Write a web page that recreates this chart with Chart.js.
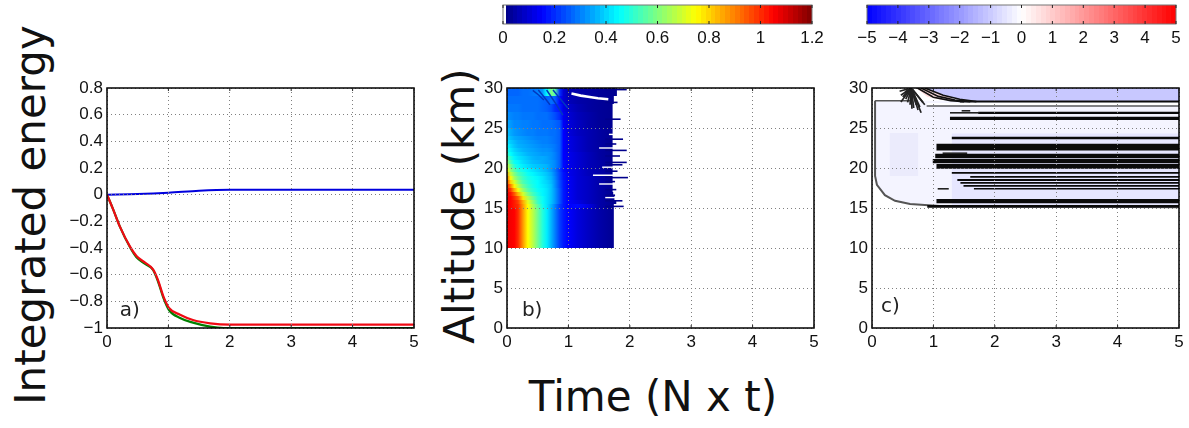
<!DOCTYPE html>
<html>
<head>
<meta charset="utf-8">
<title>Integrated energy</title>
<script src="https://cdn.jsdelivr.net/npm/chart.js@4/dist/chart.umd.min.js"></script>
<style>
    body { margin: 0; width: 1189px; height: 428px; background: #fff; overflow: hidden; position: relative; }
    canvas { position: absolute; }
    .big { position: absolute; font-family: "DejaVu Sans"; font-size: 42px; color: #111; white-space: nowrap; line-height: 1; transform: translate(-50%, -50%); }
    .vert { transform: translate(-50%, -50%) rotate(-90deg); }
</style>
</head>
<body>
<div class="big vert" style="left:31px; top:215px;">Integrated energy</div>
<div class="big vert" style="left:460px; top:206px;">Altitude (km)</div>
<div class="big" style="left:653px; top:397px;">Time (N x t)</div>

<canvas id="panel-a" width="370" height="370" style="left:60px; top:0;"></canvas>
<canvas id="panel-b" width="360" height="370" style="left:470px; top:0;"></canvas>
<canvas id="panel-c" width="354" height="370" style="left:835px; top:0;"></canvas>
<canvas id="bar-b" width="350" height="60" style="left:485px; top:0;"></canvas>
<canvas id="bar-c" width="350" height="60" style="left:839px; top:0;"></canvas>

<script>
// --- tick labels ---
const timeTicks = [0, 1, 2, 3, 4, 5];
const energyTicks = [-1, -0.8, -0.6, -0.4, -0.2, 0, 0.2, 0.4, 0.6, 0.8];
const altTicks = [0, 5, 10, 15, 20, 25, 30];
const jetTicks = [0, 0.2, 0.4, 0.6, 0.8, 1, 1.2];
const divTicks = [-5, -4, -3, -2, -1, 0, 1, 2, 3, 4, 5];

// --- panel a) ---
const blueT = [0, 0.5, 1, 1.5, 2, 5];
const blueE = [0, 0.005, 0.015, 0.03, 0.037, 0.037];
const redT = [0, 0.1, 0.21, 0.375, 0.48, 0.62, 0.75, 0.83, 0.92, 1.01, 1.19, 1.4, 1.68, 2, 5];
const redE = [0, -0.11, -0.24, -0.39, -0.46, -0.51, -0.56, -0.64, -0.765, -0.85, -0.9, -0.94, -0.965, -0.975, -0.975];
const greenT = [0, 0.1, 0.21, 0.375, 0.48, 0.62, 0.75, 0.83, 0.92, 1.01, 1.19, 1.4, 1.68, 1.9, 5];
const greenE = [0, -0.11, -0.24, -0.395, -0.47, -0.52, -0.565, -0.65, -0.775, -0.865, -0.925, -0.96, -0.99, -1, -1];

// --- panel b) filas de la superficie: valor por tiempo ---
const heatT = [0, 0.06, 0.12, 0.18, 0.26, 0.34, 0.42, 0.5, 0.58, 0.65, 0.72, 0.78, 0.86, 0.92, 1, 1.15, 1.32, 1.5, 1.75];
const heatAlt = [12.5, 15.25, 15.75, 16.25, 16.75, 17.25, 17.75, 18.25, 18.75, 19.25, 19.75, 20.25, 20.75, 21.25, 21.75, 22.25, 22.75, 23.25, 23.75, 24.5, 25.5, 26.5, 27.5, 28.5, 29.5];
const heatThick = [5, 0.5, 0.5, 0.5, 0.5, 0.5, 0.5, 0.5, 0.5, 0.5, 0.5, 0.5, 0.5, 0.5, 0.5, 0.5, 0.5, 0.5, 0.5, 1, 1, 1, 1, 1, 1];
const heatEnd = [1.74, 1.74, 1.78, 1.75, 1.73, 1.72, 1.72, 1.72, 1.72, 1.72, 1.72, 1.72, 1.72, 1.72, 1.72, 1.72, 1.72, 1.72, 1.72, 1.72, 1.72, 1.72, 1.72, 1.74, 1.79];
const heatRows = [
    [1.07, 1.06, 1.05, 1.0, 0.87, 0.75, 0.67, 0.58, 0.49, 0.43, 0.36, 0.3, 0.22, 0.18, 0.15, 0.11, 0.08, 0.05, 0.02],
    [1.07, 1.05, 1.02, 1.0, 0.87, 0.75, 0.65, 0.56, 0.47, 0.42, 0.36, 0.3, 0.22, 0.18, 0.15, 0.16, 0.12, 0.05, 0.02],
    [1.07, 1.05, 1.02, 0.98, 0.85, 0.72, 0.62, 0.52, 0.46, 0.42, 0.38, 0.33, 0.25, 0.18, 0.15, 0.12, 0.08, 0.05, 0.02],
    [1.07, 1.05, 1.0, 0.94, 0.78, 0.66, 0.58, 0.5, 0.46, 0.42, 0.38, 0.33, 0.25, 0.18, 0.14, 0.1, 0.08, 0.05, 0.02],
    [1.07, 1.03, 0.95, 0.84, 0.7, 0.6, 0.53, 0.48, 0.44, 0.42, 0.38, 0.33, 0.25, 0.18, 0.14, 0.1, 0.08, 0.05, 0.02],
    [1.06, 0.98, 0.85, 0.74, 0.63, 0.55, 0.5, 0.46, 0.44, 0.42, 0.38, 0.33, 0.25, 0.18, 0.14, 0.1, 0.08, 0.05, 0.02],
    [1.03, 0.9, 0.76, 0.67, 0.58, 0.52, 0.48, 0.45, 0.43, 0.41, 0.38, 0.32, 0.24, 0.18, 0.14, 0.1, 0.08, 0.05, 0.02],
    [0.98, 0.8, 0.7, 0.62, 0.54, 0.5, 0.47, 0.45, 0.42, 0.4, 0.37, 0.32, 0.24, 0.18, 0.14, 0.1, 0.08, 0.05, 0.02],
    [0.92, 0.74, 0.64, 0.58, 0.52, 0.48, 0.46, 0.44, 0.42, 0.39, 0.36, 0.31, 0.23, 0.17, 0.14, 0.1, 0.08, 0.05, 0.02],
    [0.85, 0.68, 0.6, 0.54, 0.5, 0.46, 0.44, 0.42, 0.4, 0.38, 0.35, 0.3, 0.23, 0.17, 0.13, 0.1, 0.07, 0.05, 0.02],
    [0.76, 0.62, 0.55, 0.5, 0.47, 0.44, 0.42, 0.4, 0.38, 0.36, 0.33, 0.29, 0.22, 0.16, 0.13, 0.1, 0.07, 0.05, 0.02],
    [0.7, 0.58, 0.5, 0.46, 0.43, 0.41, 0.39, 0.38, 0.37, 0.36, 0.33, 0.31, 0.26, 0.16, 0.13, 0.1, 0.07, 0.05, 0.02],
    [0.63, 0.53, 0.46, 0.44, 0.41, 0.39, 0.37, 0.36, 0.35, 0.34, 0.33, 0.31, 0.26, 0.16, 0.13, 0.1, 0.07, 0.05, 0.02],
    [0.58, 0.49, 0.44, 0.42, 0.4, 0.38, 0.36, 0.35, 0.35, 0.34, 0.32, 0.3, 0.26, 0.15, 0.13, 0.1, 0.07, 0.04, 0.02],
    [0.52, 0.45, 0.42, 0.4, 0.38, 0.36, 0.35, 0.34, 0.33, 0.33, 0.32, 0.3, 0.26, 0.15, 0.13, 0.1, 0.07, 0.04, 0.02],
    [0.48, 0.43, 0.4, 0.38, 0.36, 0.35, 0.34, 0.33, 0.32, 0.32, 0.31, 0.29, 0.26, 0.15, 0.12, 0.09, 0.06, 0.04, 0.02],
    [0.45, 0.41, 0.38, 0.36, 0.35, 0.34, 0.33, 0.32, 0.31, 0.31, 0.3, 0.29, 0.26, 0.15, 0.12, 0.09, 0.06, 0.04, 0.02],
    [0.42, 0.39, 0.37, 0.35, 0.34, 0.33, 0.32, 0.31, 0.3, 0.3, 0.29, 0.28, 0.26, 0.15, 0.12, 0.09, 0.06, 0.04, 0.02],
    [0.4, 0.37, 0.35, 0.34, 0.33, 0.32, 0.31, 0.3, 0.3, 0.3, 0.29, 0.28, 0.26, 0.15, 0.12, 0.09, 0.06, 0.04, 0.02],
    [0.38, 0.35, 0.33, 0.32, 0.31, 0.3, 0.3, 0.29, 0.29, 0.29, 0.28, 0.28, 0.26, 0.15, 0.11, 0.08, 0.06, 0.04, 0.02],
    [0.35, 0.33, 0.31, 0.31, 0.3, 0.3, 0.29, 0.29, 0.28, 0.28, 0.28, 0.27, 0.25, 0.14, 0.11, 0.08, 0.05, 0.03, 0.02],
    [0.32, 0.31, 0.3, 0.3, 0.29, 0.29, 0.29, 0.28, 0.28, 0.28, 0.26, 0.24, 0.2, 0.13, 0.1, 0.07, 0.05, 0.03, 0.02],
    [0.3, 0.29, 0.29, 0.29, 0.28, 0.28, 0.28, 0.28, 0.27, 0.26, 0.24, 0.2, 0.18, 0.12, 0.09, 0.06, 0.04, 0.03, 0.02],
    [0.28, 0.28, 0.28, 0.28, 0.28, 0.28, 0.28, 0.28, 0.27, 0.26, 0.28, 0.26, 0.16, 0.1, 0.07, 0.05, 0.04, 0.03, 0.02],
    [0.27, 0.27, 0.27, 0.27, 0.28, 0.28, 0.29, 0.3, 0.33, 0.45, 0.6, 0.55, 0.2, 0.1, 0.06, 0.05, 0.04, 0.03, 0.02]
];
// picos a la derecha y muescas blancas
const spikeAlt = [29.8, 28.2, 26.1, 23.6, 23.0, 22.2, 21.5, 20.7, 20.4, 19.6, 18.8, 18.3, 17.3, 16.6, 15.9, 15.2];
const spikeEnd = [1.95, 1.8, 1.85, 1.89, 1.78, 1.95, 1.84, 1.95, 1.88, 1.8, 1.97, 1.76, 1.78, 1.76, 1.88, 1.9];
const notchAlt = [24.2, 22.5, 20.1, 19.1, 18.0, 16.3];
const notchStart = [1.66, 1.5, 1.55, 1.4, 1.5, 1.6];
const whiteArcT = [1.05, 1.2, 1.32, 1.48, 1.65];
const whiteArcZ = [29.3, 29.05, 28.9, 28.72, 28.6];
const fanB = [
    { t: [0.645, 0.78, 0.91], z: [29.75, 28.2, 26.6] },
    { t: [0.75, 0.86, 0.99], z: [29.75, 28.7, 27.5] },
    { t: [0.51, 0.6, 0.7], z: [29.75, 28.9, 27.9] },
    { t: [0.42, 0.52, 0.6], z: [29.7, 29.1, 28.5] }
];

// --- panel c) ---
const outlineT = [0.05, 0.05, 0.08, 0.21, 0.375, 0.62, 1.1, 5];
const outlineZ = [28.4, 19, 17.9, 16.6, 15.9, 15.5, 15.25, 15.1];
const bandT = [0.86, 1.16, 1.43, 1.7, 5];
const bandZ = [30, 29.1, 28.6, 28.3, 28.3];
const arcs = [
    { t: [0.86, 1.16, 1.43, 1.7], z: [30, 29.1, 28.6, 28.3] },
    { t: [0.8, 1.08, 1.35, 1.6], z: [30, 28.95, 28.5, 28.3] },
    { t: [0.74, 1.0, 1.28, 1.5], z: [30, 28.85, 28.42, 28.3] }
];
const pinkT = [0.72, 0.9, 1.1, 1.3];
const pinkZ = [30, 28.9, 28.55, 28.45];
const fanT = [0.45, 0.47, 0.47, 0.5, 0.54, 0.55, 0.58, 0.62, 0.65, 0.68, 0.72, 0.75, 0.78, 0.8, 0.83, 0.86];
const fanZ = [29.6, 29.1, 28.25, 28.9, 29.5, 28.6, 28.2, 27.9, 27.4, 27.5, 27.9, 27.25, 27.6, 26.9, 28.2, 27.9];
const fanOriginT = 0.64;
const fanOriginZ = 30;
// franjas negras horizontales: altitud, inicio, grosor en px
const stripeAlt = [28.3, 27.75, 26.9, 26.2, 23.75, 22.6, 21.5, 20.85, 20.2, 19.4, 18.9, 18.5, 18.15, 17.77, 17.4, 15.85, 15.2];
const stripeStart = [1.43, 0.89, 1.73, 1.27, 1.3, 1.05, 1.03, 0.99, 1.05, 1.3, 1.6, 1.39, 1.44, 1.49, 1.66, 1.05, 0.9];
const stripeWide = [2, 1.2, 2.3, 3.3, 2.7, 6.8, 4.7, 4.3, 4.7, 1.7, 1.7, 2, 1.7, 1.7, 1.4, 4.3, 2.7];
const shortStripeAlt = [21.85, 17.4, 27.15, 26.9];
const shortStripeA = [1.15, 1.07, 1.46, 1.27];
const shortStripeB = [1.55, 1.25, 1.6, 1.75];

const PX_KM = 8;

function jet(v) {
    const f = v / 1.2;
    const c = x => Math.round(255 * Math.max(0, Math.min(1, x)));
    const r = c(Math.min(4 * f - 1.5, -4 * f + 4.5));
    const g = c(Math.min(4 * f - 0.5, -4 * f + 3.5));
    const b = c(Math.min(4 * f + 0.5, -4 * f + 2.5));
    return `rgb(${r},${g},${b})`;
}

function blueRed(v) {
    const f = v / 5;
    const c = x => Math.round(255 * x);
    if (f < 0) return `rgb(${c(1 + f)},${c(1 + f)},255)`;
    return `rgb(255,${c(1 - f)},${c(1 - f)})`;
}

function xy(ts, vs) {
    return ts.map((t, i) => ({ x: t, y: vs[i] }));
}

function line(ts, vs, color, width, extra) {
    return Object.assign({
        data: xy(ts, vs), showLine: true, pointRadius: 0,
        borderColor: color, borderWidth: width
    }, extra || {});
}

// la ultima serie de la lista queda encima
function enOrden(series) {
    series.forEach((s, i) => { s.order = -i; });
    return series;
}

function axis(ticks, min, max, extra) {
    return Object.assign({
        type: 'linear', min: min, max: max,
        afterBuildTicks: s => { s.ticks = ticks.map(v => ({ value: v })); },
        grid: { z: 1, color: '#808080', lineWidth: 1, drawTicks: false },
        border: { display: false, dash: [1, 3] },
        ticks: {
            color: '#111', font: { family: 'Liberation Sans', size: 17 },
            autoSkip: false, maxRotation: 0, padding: 4,
            callback: v => String(v).replace('-', '\u2212')
        }
    }, extra || {});
}

// el gradiente se pide antes del layout la primera vez
function scaleReady(chart) {
    return chart.chartArea && Number.isFinite(chart.scales.x.getPixelForValue(0));
}

// marco, marcas interiores y etiqueta a) b) c)
const framePlugin = {
    id: 'frame',
    afterDraw(chart, args, opts) {
        const { ctx, chartArea: a, scales } = chart;
        ctx.save();
        ctx.strokeStyle = opts.color || '#000';
        ctx.lineWidth = opts.width || 1.5;
        ctx.strokeRect(a.left, a.top, a.right - a.left, a.bottom - a.top);
        ctx.lineWidth = 1;
        ctx.strokeStyle = '#222';
        scales.x.ticks.forEach(tk => {
            const p = scales.x.getPixelForValue(tk.value);
            ctx.beginPath();
            ctx.moveTo(p, a.bottom); ctx.lineTo(p, a.bottom - 3);
            ctx.moveTo(p, a.top); ctx.lineTo(p, a.top + 3);
            ctx.stroke();
        });
        if (opts.text) {
            ctx.fillStyle = '#222';
            ctx.font = '20px "DejaVu Sans"';
            ctx.textAlign = 'center';
            ctx.textBaseline = 'middle';
            ctx.fillText(opts.text, scales.x.getPixelForValue(opts.t), scales.y.getPixelForValue(opts.v));
        }
        ctx.restore();
    }
};

function panel(id, series, yTicks, yMin, yMax, scaleWidth, paddingRight, frame) {
    return new Chart(document.getElementById(id), {
        type: 'scatter',
        data: { datasets: enOrden(series) },
        plugins: [framePlugin],
        options: {
            responsive: false,
            animation: false,
            events: [],
            layout: { autoPadding: false, padding: { top: 88, bottom: 2, left: 0, right: paddingRight } },
            plugins: { legend: { display: false }, tooltip: { enabled: false }, frame: frame },
            scales: {
                x: axis(timeTicks, 0, 5, { afterFit: s => { s.height = 40; } }),
                y: axis(yTicks, yMin, yMax, { afterFit: s => { s.width = scaleWidth; } })
            }
        }
    });
}

function colorbar(id, ticks, min, max, fn, left, right, white) {
    const row = line([min, max], [0.5, 0.5], null, 19, {
        borderColor: c => {
            if (!scaleReady(c.chart)) return '#000';
            const x = c.chart.scales.x;
            const g = c.chart.ctx.createLinearGradient(x.left, 0, x.right, 0);
            const n = 64;
            for (let i = 0; i < n; i++) {
                const color = fn(min + (max - min) * (i + 0.5) / n);
                g.addColorStop(i / n, color);
                g.addColorStop((i + 1) / n, color);
            }
            if (white) { g.addColorStop(0, '#fff'); g.addColorStop(0.009, '#fff'); g.addColorStop(0.0091, fn(0.01)); }
            return g;
        }
    });
    return new Chart(document.getElementById(id), {
        type: 'scatter',
        data: { datasets: [row] },
        plugins: [framePlugin],
        options: {
            responsive: false,
            animation: false,
            events: [],
            layout: { autoPadding: false, padding: { top: 5, bottom: 0, left: left, right: right } },
            plugins: { legend: { display: false }, tooltip: { enabled: false }, frame: { color: '#777', width: 1 } },
            scales: {
                x: axis(ticks, min, max, {
                    afterFit: s => { s.height = 36; },
                    grid: { display: false, drawTicks: false }
                }),
                y: { type: 'linear', min: 0, max: 1, display: false }
            }
        }
    });
}

// --- series panel b ---
const heatSeries = heatAlt.map((alt, i) => line([0, heatEnd[i]], [alt, alt], null, heatThick[i] * PX_KM, {
    borderColor: c => {
        if (!scaleReady(c.chart)) return '#000';
        const x = c.chart.scales.x;
        const a = x.getPixelForValue(0);
        const b = x.getPixelForValue(heatT[heatT.length - 1]);
        const g = c.chart.ctx.createLinearGradient(a, 0, b, 0);
        heatRows[i].forEach((v, k) => g.addColorStop(heatT[k] / heatT[heatT.length - 1], jet(v)));
        return g;
    }
}));
const spikeSeries = spikeAlt.map((alt, i) => line([1.6, spikeEnd[i]], [alt, alt], '#00008c', 1.6));
const notchSeries = notchAlt.map((alt, i) => line([notchStart[i], 2], [alt, alt], '#fff', 1.4));
const fanBSeries = fanB.map(f => line(f.t, f.z, '#0038c0', 1.5));

panel('panel-b',
    [].concat(heatSeries, fanBSeries, spikeSeries, notchSeries, [line(whiteArcT, whiteArcZ, '#fff', 2.6)]),
    altTicks, 0, 30, 37, 16,
    { text: 'b)', t: 0.41, v: 2.1 });

// --- series panel c ---
const stripeSeries = stripeAlt.map((alt, i) => line([stripeStart[i], 5], [alt, alt], '#0a0a0a', stripeWide[i]));
const shortSeries = shortStripeAlt.map((alt, i) => line([shortStripeA[i], shortStripeB[i]], [alt, alt], '#222', 1.6));
const fanSeries = fanT.map((t, i) => line([fanOriginT, t], [fanOriginZ, fanZ[i]], '#222', 1.7));
const arcSeries = arcs.map(a => line(a.t, a.z, '#111', 1.6));

panel('panel-c',
    [].concat(
        [
            line([0.05, 5], [28.4, 28.4], '#f4f4ff', 0, { fill: { value: 0 }, backgroundColor: '#f4f4ff' }),
            line(outlineT, outlineZ, '#555', 2, { fill: { value: 0 }, backgroundColor: '#fff' }),
            line([1.3, 5], [19.7, 19.7], '#e6e6ff', 74),
            line([0.29, 0.75], [21.7, 21.7], '#ebebfc', 43),
            line([0.05, 0.62], [28.4, 28.4], '#555', 1.5),
            line(pinkT, pinkZ, '#ffdcdc', 0, { fill: { value: 30 }, backgroundColor: '#ffdcdc' }),
            line(bandT, bandZ, '#c8c8ff', 0, { fill: { value: 30 }, backgroundColor: '#c8c8ff' }),
            line([0.9, 5], [28.0, 28.0], '#fff', 2.2)
        ],
        stripeSeries, shortSeries, arcSeries, fanSeries
    ),
    altTicks, 0, 30, 37, 10,
    { text: 'c)', t: 0.3, v: 2.7 });

// --- panel a ---
panel('panel-a',
    [
        line(greenT, greenE, '#008000', 2.2, { cubicInterpolationMode: 'monotone' }),
        line(blueT, blueE, '#0000dd', 2, { cubicInterpolationMode: 'monotone' }),
        line(redT, redE, '#f00a14', 2.2, { cubicInterpolationMode: 'monotone' })
    ],
    energyTicks, -1, 0.8, 47, 16,
    { text: 'a)', t: 0.37, v: -0.87 });

colorbar('bar-b', jetTicks, 0, 1.2, jet, 18, 23, true);
colorbar('bar-c', divTicks, -5, 5, blueRed, 28, 13, false);
</script>
</body>
</html>
